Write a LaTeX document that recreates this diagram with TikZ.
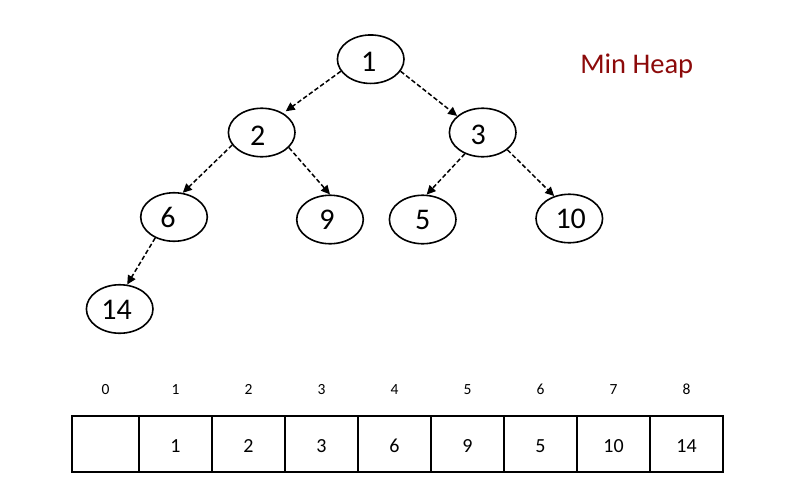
\documentclass[tikz,border=0pt]{standalone}
\usepackage{fontspec}
\setmainfont{Carlito}
\usetikzlibrary{arrows.meta,shapes.geometric}
\definecolor{heapred}{RGB}{140,10,10}
\begin{document}
\begin{tikzpicture}[x=1pt,y=-1pt,
  heapnode/.style={ellipse,draw=black,line width=1.6pt,minimum width=66.6pt,minimum height=48.5pt,inner sep=0pt},
  num/.style={font=\fontsize{30}{30}\selectfont,inner sep=0pt},
  arr/.style={line width=1.5pt,dash pattern=on 4.5pt off 2.5pt,-{Triangle[length=9pt,width=8.5pt]}},
  cell/.style={rectangle,draw=black,line width=1.8pt,minimum height=56pt,inner sep=0pt},
  val/.style={font=\fontsize{20}{20}\selectfont,inner sep=0pt},
  idx/.style={font=\fontsize{15.5}{15.5}\selectfont,inner sep=0pt}]
\useasboundingbox (0,0) rectangle (800,490);

% heap nodes
\node[heapnode,label={[num,xshift=-2pt,yshift=-2.5pt]center:1}] (n1) at (370.7,59.2) {};
\node[heapnode,label={[num,xshift=-4pt,yshift=-3pt]center:2}] (n2) at (261.7,132.5) {};
\node[heapnode,label={[num,xshift=-4.4pt,yshift=-2.5pt]center:3}] (n3) at (482.7,132.5) {};
\node[heapnode,label={[num,xshift=-6pt]center:6}] (n6) at (174,217) {};
\node[heapnode,label={[num,xshift=-3pt]center:9}] (n9) at (330,219.5) {};
\node[heapnode,label={[num]center:5}] (n5) at (422.7,219.5) {};
\node[heapnode,label={[num,xshift=1.4pt]center:10}] (n10) at (569.3,218.5) {};
\node[heapnode,label={[num,xshift=-3pt,yshift=-1pt]center:14}] (n14) at (119.7,309) {};

% connectors
\draw[arr,shorten >=3pt] (n1.202) -- (n2.42.8);
\draw[arr] (n1.338.7) -- (n3.147);
\draw[arr] (n2.203.3) -- (n6.70.7);
\draw[arr] (n2.331.9) -- (n9.90);
\draw[arr] (n3.230.3) -- (n5.81.3);
\draw[arr] (n3.325.6) -- (n10.124);
\draw[arr] (n6.228.9) -- (n14.73);

% title
\node[font=\fontsize{28.5}{30}\selectfont,text=heapred,anchor=base,inner sep=0pt] (title) at (636.7,73.3) {Min Heap};

% array
\node[cell,minimum width=67pt] (c0) at (105.5,443.7) {};
\node[cell,minimum width=73pt,label={[val,yshift=-2pt]center:1}] (c1) at (175.5,443.7) {};
\node[cell,minimum width=73pt,label={[val,yshift=-2pt]center:2}] (c2) at (248.5,443.7) {};
\node[cell,minimum width=73pt,label={[val,yshift=-2pt]center:3}] (c3) at (321.5,443.7) {};
\node[cell,minimum width=73pt,label={[val,yshift=-2pt]center:6}] (c4) at (394.5,443.7) {};
\node[cell,minimum width=73pt,label={[val,yshift=-2pt]center:9}] (c5) at (467.5,443.7) {};
\node[cell,minimum width=73pt,label={[val,yshift=-2pt]center:5}] (c6) at (540.5,443.7) {};
\node[cell,minimum width=73pt,label={[val,yshift=-2pt]center:10}] (c7) at (613.5,443.7) {};
\node[cell,minimum width=73pt,label={[val,yshift=-2pt]center:14}] (c8) at (686.5,443.7) {};

% indices
\foreach \i in {0,...,8}{
  \node[idx] (i\i) at ([yshift=25.7pt]c\i.north) {\i};
}
\end{tikzpicture}
\end{document}
